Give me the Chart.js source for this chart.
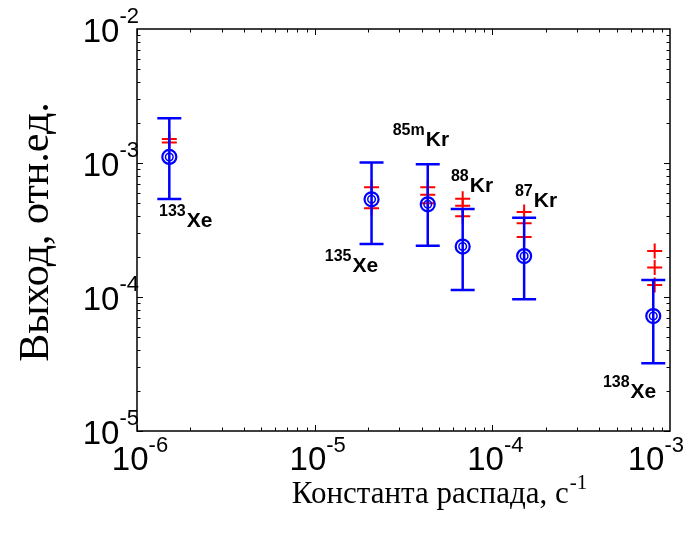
<!DOCTYPE html>
<html>
<head>
<meta charset="utf-8">
<script src="https://cdn.jsdelivr.net/npm/chart.js@4/dist/chart.umd.min.js"></script>
<style>
  html, body { margin: 0; padding: 0; background: #ffffff; }
  #wrap { width: 696px; height: 536px; position: relative; }
</style>
</head>
<body>
<div id="wrap"><canvas id="c" width="696" height="536"></canvas></div>
<script>
// ---- Data ----
const isotopes   = ['133Xe', '135Xe', '85mKr', '88Kr', '87Kr', '138Xe'];
const decayConst = [1.52e-6, 2.09e-5, 4.33e-5, 6.81e-5, 1.51e-4, 8.05e-4];   // s^-1
const yieldMean  = [1.11e-3, 5.36e-4, 4.92e-4, 2.38e-4, 2.02e-4, 7.21e-5];
const yieldLow   = [5.38e-4, 2.49e-4, 2.41e-4, 1.13e-4, 9.62e-5, 3.20e-5];
const yieldHigh  = [2.16e-3, 1.01e-3, 9.77e-4, 4.54e-4, 3.91e-4, 1.34e-4];

// red "+" estimates
const calcX = [1.52e-6, 1.52e-6, 2.09e-5, 2.09e-5, 4.33e-5, 4.33e-5, 4.33e-5,
               6.81e-5, 6.81e-5, 6.81e-5, 1.51e-4, 1.51e-4, 1.51e-4, 8.2e-4, 8.2e-4, 8.2e-4];
const calcY = [1.51e-3, 1.42e-3, 6.6e-4, 4.6e-4, 6.6e-4, 5.8e-4, 5.0e-4,
               5.4e-4, 4.8e-4, 4.0e-4, 4.3e-4, 3.55e-4, 2.8e-4, 2.2e-4, 1.66e-4, 1.23e-4];

// isotope labels: mass number (superscript), element, anchor in data coords
const labelMass = ['133', '135', '85m', '88', '87', '138'];
const labelElem = ['Xe', 'Xe', 'Kr', 'Kr', 'Kr', 'Xe'];
const labelX    = [1.33e-6, 1.14e-5, 2.75e-5, 5.85e-5, 1.34e-4, 4.19e-4];
const labelY    = [3.33e-4, 1.54e-4, 1.35e-3, 6.11e-4, 4.70e-4, 1.76e-5];

// axis ticks
const xTickVals = [1e-6, 1e-5, 1e-4, 1e-3];
const xTickExp  = ['-6', '-5', '-4', '-3'];
const yTickVals = [1e-5, 1e-4, 1e-3, 1e-2];
const yTickExp  = ['-5', '-4', '-3', '-2'];

const xTitle = 'Константа распада, с';
const xTitleSup = '-1';
const yTitle = 'Выход, отн.ед.';

const BLUE = '#0000ff';
const RED = '#ff0000';

function pts(xs, ys) { return xs.map((x, i) => ({x: x, y: ys[i]})); }

const decorPlugin = {
  id: 'decor',
  beforeDatasetDraw(chart, args) {
    if (args.index !== 1) return;   // draw error bars just under the circles
    const ctx = chart.ctx, xs = chart.scales.x, ys = chart.scales.y;
    ctx.save();
    ctx.strokeStyle = BLUE;
    ctx.lineWidth = 2.5;
    ctx.lineCap = 'butt';
    for (let i = 0; i < decayConst.length; i++) {
      const px = xs.getPixelForValue(decayConst[i]);
      const pl = ys.getPixelForValue(yieldLow[i]);
      const ph = ys.getPixelForValue(yieldHigh[i]);
      ctx.beginPath();
      ctx.moveTo(px, pl); ctx.lineTo(px, ph);
      ctx.moveTo(px - 12, pl); ctx.lineTo(px + 12, pl);
      ctx.moveTo(px - 12, ph); ctx.lineTo(px + 12, ph);
      ctx.stroke();
    }
    ctx.restore();
  },
  afterDraw(chart) {
    const ctx = chart.ctx, xs = chart.scales.x, ys = chart.scales.y;
    const a = chart.chartArea;
    ctx.save();
    // frame
    ctx.strokeStyle = '#000';
    ctx.lineWidth = 1.5;
    ctx.strokeRect(a.left, a.top, a.right - a.left, a.bottom - a.top);
    // ticks (inward, all sides)
    ctx.lineWidth = 1;
    ctx.beginPath();
    for (let d = -6; d < -3; d++) {
      for (let m = 1; m <= 9; m++) {
        const v = m * Math.pow(10, d);
        const px = Math.round(xs.getPixelForValue(v)) + 0.5;
        const len = m === 1 ? 6 : 3.5;
        ctx.moveTo(px, a.bottom); ctx.lineTo(px, a.bottom - len);
        ctx.moveTo(px, a.top); ctx.lineTo(px, a.top + len);
      }
    }
    for (let d = -5; d < -2; d++) {
      for (let m = 1; m <= 9; m++) {
        const v = m * Math.pow(10, d);
        const py = Math.round(ys.getPixelForValue(v)) + 0.5;
        const len = m === 1 ? 6 : 3.5;
        ctx.moveTo(a.left, py); ctx.lineTo(a.left + len, py);
        ctx.moveTo(a.right, py); ctx.lineTo(a.right - len, py);
      }
    }
    ctx.stroke();

    // tick labels
    ctx.fillStyle = '#000';
    ctx.textBaseline = 'alphabetic';
    const bigF = '33px "Liberation Sans", Arial, sans-serif';
    const supF = '22px "Liberation Sans", Arial, sans-serif';
    xTickVals.forEach((v, i) => {
      const px = xs.getPixelForValue(v);
      ctx.font = bigF; const w1 = ctx.measureText('10').width;
      ctx.font = supF; const w2 = ctx.measureText(xTickExp[i]).width;
      let x0 = px - (w1 + w2) / 2 + 3;
      if (x0 + w1 + w2 > 684) x0 = 684 - w1 - w2;   // keep last label inside the figure
      ctx.font = bigF; ctx.textAlign = 'left';
      ctx.fillText('10', x0, a.bottom + 39);
      ctx.font = supF;
      ctx.fillText(xTickExp[i], x0 + w1, a.bottom + 21);
    });
    yTickVals.forEach((v, i) => {
      const py = ys.getPixelForValue(v);
      ctx.font = bigF; const w1 = ctx.measureText('10').width;
      ctx.font = supF; const w2 = ctx.measureText(yTickExp[i]).width;
      const x1 = a.left + 2;
      ctx.textAlign = 'left';
      ctx.font = bigF;
      ctx.fillText('10', x1 - w2 - w1, py + 13);
      ctx.font = supF;
      ctx.fillText(yTickExp[i], x1 - w2, py - 6);
    });

    // axis titles
    const titleF = '31px "Liberation Serif", "Times New Roman", serif';
    const titleSupF = '21px "Liberation Serif", "Times New Roman", serif';
    ctx.font = titleF;
    const tw = ctx.measureText(xTitle).width;
    ctx.font = titleSupF;
    const sw = ctx.measureText(xTitleSup).width;
    const cx = 439;
    ctx.textAlign = 'left';
    ctx.font = titleF;
    ctx.fillText(xTitle, cx - (tw + sw) / 2, 503);
    ctx.font = titleSupF;
    ctx.fillText(xTitleSup, cx - (tw + sw) / 2 + tw + 1, 489);

    ctx.save();
    ctx.translate(48, 232);
    ctx.rotate(-Math.PI / 2);
    ctx.font = '42px "Liberation Serif", "Times New Roman", serif';
    ctx.textAlign = 'center';
    ctx.fillText(yTitle, 0, 0);
    ctx.restore();

    // isotope labels
    const lblF = 'bold 21px "Liberation Sans", Arial, sans-serif';
    const lblSupF = 'bold 16px "Liberation Sans", Arial, sans-serif';
    ctx.textAlign = 'left';
    for (let i = 0; i < labelMass.length; i++) {
      const px = xs.getPixelForValue(labelX[i]);
      const py = ys.getPixelForValue(labelY[i]);
      ctx.font = lblSupF;
      const mw = ctx.measureText(labelMass[i]).width;
      ctx.fillText(labelMass[i], px, py - 11);
      ctx.font = lblF;
      ctx.fillText(labelElem[i], px + mw + 1, py);
    }
    ctx.restore();
  }
};

new Chart(document.getElementById('c'), {
  type: 'scatter',
  data: {
    datasets: [
      { label: 'outer', data: pts(decayConst, yieldMean), order: 1,
        pointStyle: 'circle', pointRadius: 7, borderColor: BLUE, backgroundColor: 'rgba(0,0,0,0)',
        pointBorderWidth: 2.2 },
      { label: 'inner', data: pts(decayConst, yieldMean), order: 2,
        pointStyle: 'circle', pointRadius: 3.8, borderColor: BLUE, backgroundColor: 'rgba(0,0,0,0)',
        pointBorderWidth: 1.5 },
      { label: 'calc', data: pts(calcX, calcY), order: 3,
        pointStyle: 'cross', pointRadius: 7.5, borderColor: RED, backgroundColor: RED,
        pointBorderWidth: 2 }
    ]
  },
  options: {
    responsive: false,
    animation: false,
    events: [],
    layout: { padding: { left: 137, right: 26, top: 29, bottom: 105 } },
    plugins: { legend: { display: false }, tooltip: { enabled: false } },
    scales: {
      x: { type: 'logarithmic', min: 1e-6, max: 1e-3, display: false },
      y: { type: 'logarithmic', min: 1e-5, max: 1e-2, display: false }
    }
  },
  plugins: [decorPlugin]
});
</script>
</body>
</html>
